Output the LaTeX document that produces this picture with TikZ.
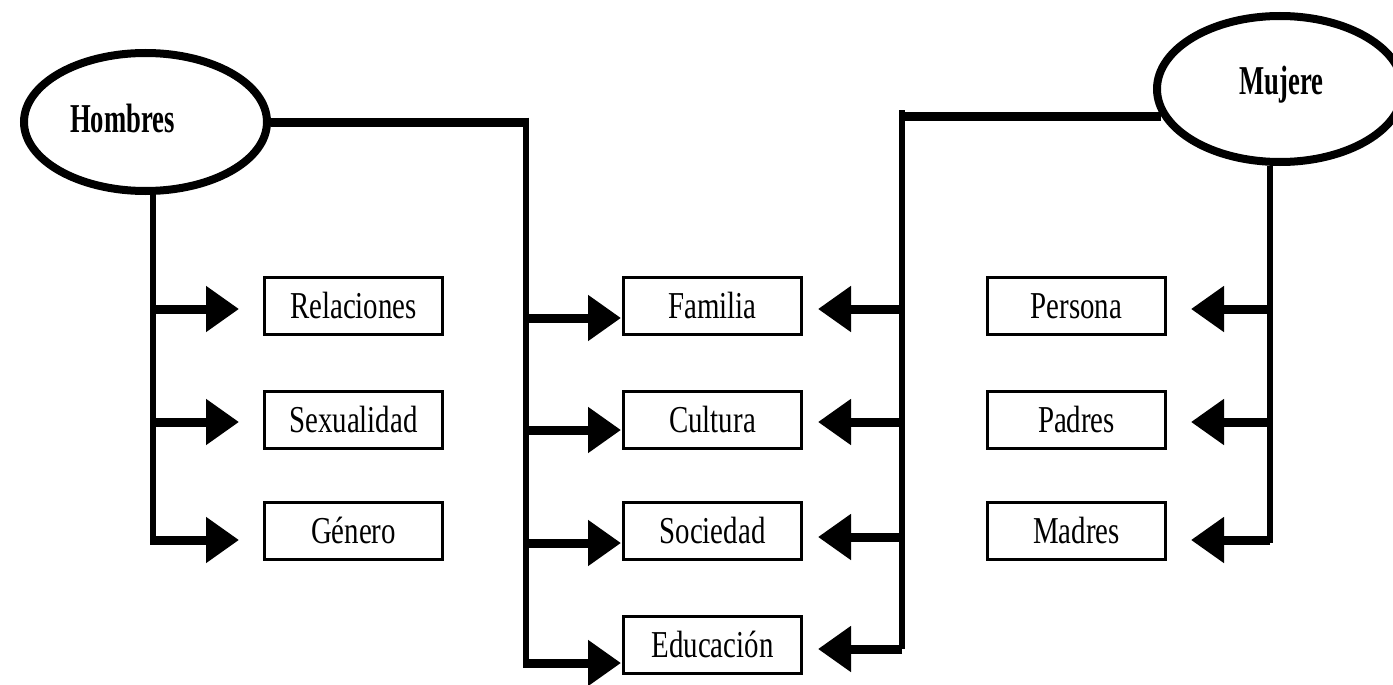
\documentclass[tikz,border=0pt]{standalone}
\usepackage{fontspec}
\setmainfont{Liberation Serif}
\newfontfamily\labfont[FakeStretch=0.76]{Liberation Serif}
\newfontfamily\headfont[FakeStretch=0.65]{Liberation Serif}
\usetikzlibrary{shapes.geometric,arrows.meta}

\begin{document}
\begin{tikzpicture}[x=1pt,y=-1pt,
  oval/.style={ellipse, draw, line width=8pt, inner sep=0pt,
    text height=27pt, text depth=0pt,
    font=\headfont\bfseries\fontsize{41}{43}\selectfont},
  item/.style={draw, line width=3pt, minimum width=178pt, minimum height=57pt,
    inner sep=0pt, text height=25pt, text depth=0pt,
    font=\labfont\fontsize{38}{40}\selectfont},
  bar/.style={line width=9pt},
  trunk/.style={line width=6pt},
  arr/.style={line width=9pt, -{Triangle[length=33pt,width=44pt]}},
]
\fill[white] (0,0) rectangle (1393,685);
\useasboundingbox (0,0) rectangle (1393,685);

% the two main groups
\node[oval, minimum width=243pt, minimum height=138pt] (hom) at (145.5,122)
  {\raisebox{3.5pt}{\hspace*{-46pt}Hombres}};
\node[oval, minimum width=246pt, minimum height=146pt] (mu) at (1280,89)
  {\raisebox{7.5pt}{\hspace*{3pt}Mujere}};

% left column
\node[item] (rel) at (353.5,305.5) {Relaciones};
\node[item] (sex) at (353.5,420) {Sexualidad};
\node[item] (gen) at (353.5,531) {Género};
% shared column
\node[item] (fam) at (712.5,306) {Familia};
\node[item] (cul) at (712.5,420) {Cultura};
\node[item] (soc) at (712.5,531) {Sociedad};
\node[item] (edu) at (712.5,644.5) {Educación};
% right column
\node[item] (per) at (1076.5,305.5) {Persona};
\node[item] (pad) at (1076.5,420) {Padres};
\node[item] (mad) at (1076.5,530.5) {Madres};

% branch points on the trunks
\coordinate (h1) at (153,309);
\coordinate (h2) at (153,422);
\coordinate (h3) at (153,540);
\coordinate (hEnd) at (153,545);

\coordinate (hbarEnd) at (529,122);
\coordinate (mlTop) at (526,117.5);
\coordinate (ml1) at (526,318);
\coordinate (ml2) at (526,430);
\coordinate (ml3) at (526,543);
\coordinate (ml4) at (526,663);
\coordinate (mlEnd) at (526,667.5);

\coordinate (mbarEnd) at (899,118);
\coordinate (mrTop) at (902,110);
\coordinate (mr1) at (902,309);
\coordinate (mr2) at (902,422);
\coordinate (mr3) at (902,537);
\coordinate (mr4) at (902,649);

\coordinate (r1) at (1270,309);
\coordinate (r2) at (1270,422);
\coordinate (r3) at (1270,540);
\coordinate (rEnd) at (1270,543);

% Hombres branch
\draw[trunk] (hom.south -| hEnd) -- (hEnd);
\draw[arr, shorten >=24pt] (h1) -- (rel.west |- h1);
\draw[arr, shorten >=24pt] (h2) -- (sex.west |- h2);
\draw[arr, shorten >=24pt] (h3) -- (gen.west |- h3);

\draw[bar] (hom.east) -- (hom.east -| hbarEnd);
\draw[trunk] (mlTop) -- (mlEnd);
\draw[arr, shorten >=1pt] (ml1) -- (fam.west |- ml1);
\draw[arr, shorten >=1pt] (ml2) -- (cul.west |- ml2);
\draw[arr, shorten >=1pt] (ml3) -- (soc.west |- ml3);
\draw[arr, shorten >=1pt] (ml4) -- (edu.west |- ml4);

% Mujere branch
\draw[bar] (mu.193.8) -- (mu.193.8 -| mbarEnd);
\draw[trunk] (mrTop) -- (mr4);
\draw[arr, shorten >=15pt] (mr1) -- (fam.east |- mr1);
\draw[arr, shorten >=15pt] (mr2) -- (cul.east |- mr2);
\draw[arr, shorten >=15pt] (mr3) -- (soc.east |- mr3);
\draw[arr, shorten >=15pt] (mr4) -- (edu.east |- mr4);

\draw[trunk] (mu.south -| rEnd) -- (rEnd);
\draw[arr, shorten >=24pt] (r1) -- (per.east |- r1);
\draw[arr, shorten >=24pt] (r2) -- (pad.east |- r2);
\draw[arr, shorten >=24pt] (r3) -- (mad.east |- r3);
\end{tikzpicture}
\end{document}
